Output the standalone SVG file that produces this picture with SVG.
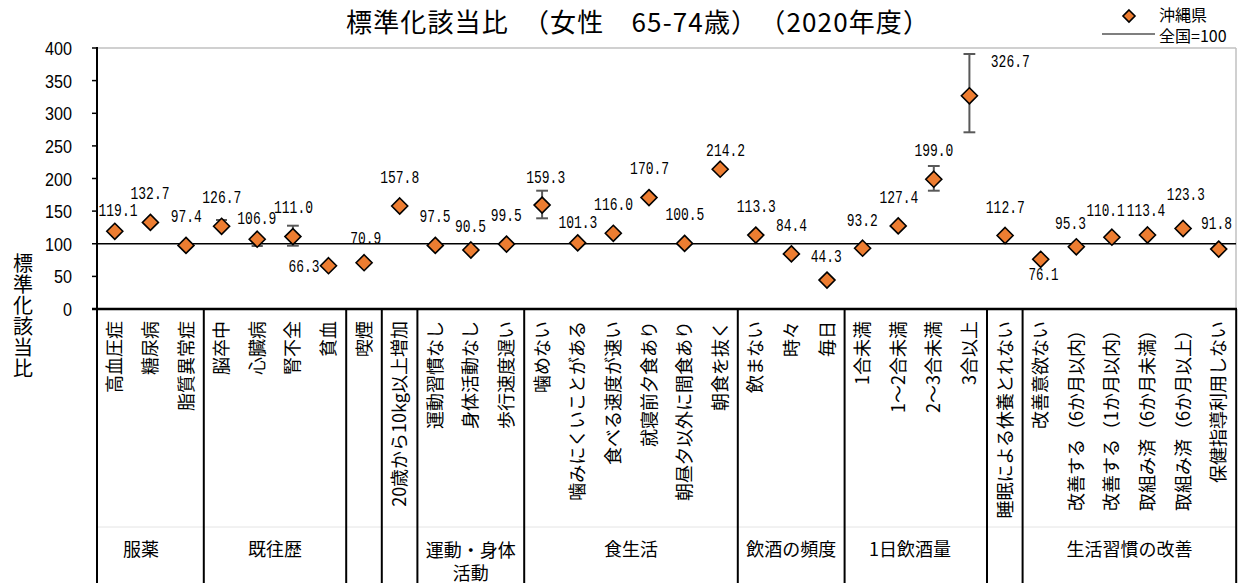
<svg xmlns="http://www.w3.org/2000/svg" xmlns:xlink="http://www.w3.org/1999/xlink" width="1242" height="583" viewBox="0 0 1242 583">
<style>
.jp{font-family:"Noto Sans CJK JP","Noto Sans CJK SC",sans-serif;fill:#000}
.title{font-size:26px}
.ylab{font-size:20px;writing-mode:vertical-rl;letter-spacing:1px}
.tick{font-family:"Liberation Sans",Arial,sans-serif;font-size:18px;text-anchor:end;fill:#000}
.val{font-family:"Liberation Mono","DejaVu Sans Mono",monospace;font-size:19px;fill:#000}
.cat{font-size:18px;text-anchor:end}
.grp{font-size:18px;text-anchor:middle}
.leg{font-size:16px}
.mk{fill:#ED7D31;stroke:#000;stroke-width:1.6}
.eb{stroke:#595959;stroke-width:2;fill:none}
.ax{stroke:#000;fill:none}
.bd{stroke:#c0c0c0;stroke-width:1.5;fill:none}
</style>
<defs>
<path id="dm" d="M0,-8 L8,0 L0,8 L-8,0Z"/>
<path id="dms" d="M0,-6 L6,0 L0,6 L-6,0Z"/>
</defs>
<rect width="1242" height="583" fill="#fff"/>
<text class="jp title" x="346" y="32" textLength="583">標準化該当比　（女性　65-74歳）　（2020年度）</text>
<g id="legend">
<use href="#dms" x="1129" y="16" class="mk"/>
<text class="jp leg" x="1159" y="21">沖縄県</text>
<line x1="1102" y1="34" x2="1155" y2="34" stroke="#000" stroke-width="1.2"/>
<text class="jp leg" x="1159" y="42">全国=100</text>
</g>
<g id="y-axis-title">
<text class="jp ylab" x="23" y="253">標準化該当比</text>
</g>
<g id="frame">
<line class="bd" x1="97" y1="48" x2="1236" y2="48"/>
<line class="bd" x1="1236" y1="48" x2="1236" y2="309"/>
<line x1="98" y1="527" x2="1236" y2="527" stroke="#e4e4e4" stroke-width="1"/>
<line class="ax" x1="97" y1="243.75" x2="1236" y2="243.75" stroke-width="1.6"/>
<g class="ax" stroke-width="1.5">
<line x1="92" y1="48" x2="97" y2="48"/>
<line x1="92" y1="80.6" x2="97" y2="80.6"/>
<line x1="92" y1="113.3" x2="97" y2="113.3"/>
<line x1="92" y1="145.9" x2="97" y2="145.9"/>
<line x1="92" y1="178.5" x2="97" y2="178.5"/>
<line x1="92" y1="211.1" x2="97" y2="211.1"/>
<line x1="92" y1="243.75" x2="97" y2="243.75"/>
<line x1="92" y1="276.4" x2="97" y2="276.4"/>
</g>
<line class="ax" x1="92" y1="309" x2="1237" y2="309" stroke-width="2.5"/>
<g class="ax" stroke-width="2">
<line x1="97" y1="47" x2="97" y2="583"/>
<line x1="203.8" y1="309" x2="203.8" y2="583"/>
<line x1="346.2" y1="309" x2="346.2" y2="583"/>
<line x1="381.8" y1="309" x2="381.8" y2="583"/>
<line x1="417.4" y1="309" x2="417.4" y2="583"/>
<line x1="524.2" y1="309" x2="524.2" y2="583"/>
<line x1="737.8" y1="309" x2="737.8" y2="583"/>
<line x1="844.6" y1="309" x2="844.6" y2="583"/>
<line x1="987" y1="309" x2="987" y2="583"/>
<line x1="1022.6" y1="309" x2="1022.6" y2="583"/>
<line x1="1236.2" y1="309" x2="1236.2" y2="583"/>
</g>
</g>
<g id="y-ticks">
<text class="tick" x="72" y="55" textLength="27" lengthAdjust="spacingAndGlyphs">400</text>
<text class="tick" x="72" y="87.6" textLength="27" lengthAdjust="spacingAndGlyphs">350</text>
<text class="tick" x="72" y="120.3" textLength="27" lengthAdjust="spacingAndGlyphs">300</text>
<text class="tick" x="72" y="152.9" textLength="27" lengthAdjust="spacingAndGlyphs">250</text>
<text class="tick" x="72" y="185.5" textLength="27" lengthAdjust="spacingAndGlyphs">200</text>
<text class="tick" x="72" y="218.1" textLength="27" lengthAdjust="spacingAndGlyphs">150</text>
<text class="tick" x="72" y="250.75" textLength="27" lengthAdjust="spacingAndGlyphs">100</text>
<text class="tick" x="72" y="283.4" textLength="18" lengthAdjust="spacingAndGlyphs">50</text>
<text class="tick" x="72" y="316" textLength="9" lengthAdjust="spacingAndGlyphs">0</text>
</g>
<g id="connectors">
<line class="eb" x1="221.6" y1="220" x2="221.6" y2="228"/><line class="eb" x1="216" y1="220" x2="227" y2="220"/>
<line class="eb" x1="257.2" y1="238" x2="257.2" y2="246"/><line class="eb" x1="251.6" y1="246" x2="262.8" y2="246"/>
<line class="eb" x1="292.9" y1="225.7" x2="292.9" y2="245.7"/><line class="eb" x1="287" y1="225.7" x2="298.8" y2="225.7"/><line class="eb" x1="287" y1="245.7" x2="298.8" y2="245.7"/>
<line class="eb" x1="542.1" y1="190.7" x2="542.1" y2="218.3"/><line class="eb" x1="536.2" y1="190.7" x2="548" y2="190.7"/><line class="eb" x1="536.2" y1="218.3" x2="548" y2="218.3"/>
<line class="eb" x1="933.8" y1="166" x2="933.8" y2="190.7"/><line class="eb" x1="927.9" y1="166" x2="939.7" y2="166"/><line class="eb" x1="927.9" y1="190.7" x2="939.7" y2="190.7"/>
<line class="eb" x1="969.4" y1="54" x2="969.4" y2="132.3"/><line class="eb" x1="963.5" y1="54" x2="975.3" y2="54"/><line class="eb" x1="963.5" y1="132.3" x2="975.3" y2="132.3"/>
</g>
<g id="points">
<g id="p0"><use href="#dm" class="mk" x="114.8" y="231.3"/><text class="val" x="98.5" y="216" textLength="39" lengthAdjust="spacingAndGlyphs">119.1</text></g>
<g id="p1"><use href="#dm" class="mk" x="150.4" y="222.4"/><text class="val" x="130.5" y="199" textLength="39" lengthAdjust="spacingAndGlyphs">132.7</text></g>
<g id="p2"><use href="#dm" class="mk" x="186.0" y="245.4"/><text class="val" x="170.7" y="221.7" textLength="31" lengthAdjust="spacingAndGlyphs">97.4</text></g>
<g id="p3"><use href="#dm" class="mk" x="221.6" y="226.3"/><text class="val" x="202.3" y="202.7" textLength="39" lengthAdjust="spacingAndGlyphs">126.7</text></g>
<g id="p4"><use href="#dm" class="mk" x="257.2" y="239.2"/><text class="val" x="237.3" y="224.3" textLength="39" lengthAdjust="spacingAndGlyphs">106.9</text></g>
<g id="p5"><use href="#dm" class="mk" x="292.9" y="236.6"/><text class="val" x="274" y="213.3" textLength="39" lengthAdjust="spacingAndGlyphs">111.0</text></g>
<g id="p6"><use href="#dm" class="mk" x="328.5" y="265.7"/><text class="val" x="288.5" y="271.7" textLength="31" lengthAdjust="spacingAndGlyphs">66.3</text></g>
<g id="p7"><use href="#dm" class="mk" x="364.1" y="262.7"/><text class="val" x="350.2" y="244.3" textLength="31" lengthAdjust="spacingAndGlyphs">70.9</text></g>
<g id="p8"><use href="#dm" class="mk" x="399.7" y="206.0"/><text class="val" x="380.2" y="183" textLength="39" lengthAdjust="spacingAndGlyphs">157.8</text></g>
<g id="p9"><use href="#dm" class="mk" x="435.3" y="245.4"/><text class="val" x="419.4" y="221.7" textLength="31" lengthAdjust="spacingAndGlyphs">97.5</text></g>
<g id="p10"><use href="#dm" class="mk" x="470.9" y="250.0"/><text class="val" x="455" y="231.7" textLength="31" lengthAdjust="spacingAndGlyphs">90.5</text></g>
<g id="p11"><use href="#dm" class="mk" x="506.5" y="244.1"/><text class="val" x="490.8" y="220.7" textLength="31" lengthAdjust="spacingAndGlyphs">99.5</text></g>
<g id="p12"><use href="#dm" class="mk" x="542.1" y="205.1"/><text class="val" x="526.2" y="183.3" textLength="39" lengthAdjust="spacingAndGlyphs">159.3</text></g>
<g id="p13"><use href="#dm" class="mk" x="577.7" y="242.9"/><text class="val" x="558.4" y="228.3" textLength="39" lengthAdjust="spacingAndGlyphs">101.3</text></g>
<g id="p14"><use href="#dm" class="mk" x="613.3" y="233.3"/><text class="val" x="594.1" y="210" textLength="39" lengthAdjust="spacingAndGlyphs">116.0</text></g>
<g id="p15"><use href="#dm" class="mk" x="649.0" y="197.6"/><text class="val" x="630.1" y="174" textLength="39" lengthAdjust="spacingAndGlyphs">170.7</text></g>
<g id="p16"><use href="#dm" class="mk" x="684.6" y="243.4"/><text class="val" x="665.4" y="220" textLength="39" lengthAdjust="spacingAndGlyphs">100.5</text></g>
<g id="p17"><use href="#dm" class="mk" x="720.2" y="169.2"/><text class="val" x="706.1" y="156" textLength="39" lengthAdjust="spacingAndGlyphs">214.2</text></g>
<g id="p18"><use href="#dm" class="mk" x="755.8" y="235.1"/><text class="val" x="736.8" y="212.3" textLength="39" lengthAdjust="spacingAndGlyphs">113.3</text></g>
<g id="p19"><use href="#dm" class="mk" x="791.4" y="253.9"/><text class="val" x="776.1" y="231" textLength="31" lengthAdjust="spacingAndGlyphs">84.4</text></g>
<g id="p20"><use href="#dm" class="mk" x="827.0" y="280.1"/><text class="val" x="810.8" y="261.7" textLength="31" lengthAdjust="spacingAndGlyphs">44.3</text></g>
<g id="p21"><use href="#dm" class="mk" x="862.6" y="248.2"/><text class="val" x="846.8" y="225.7" textLength="31" lengthAdjust="spacingAndGlyphs">93.2</text></g>
<g id="p22"><use href="#dm" class="mk" x="898.2" y="225.9"/><text class="val" x="879.4" y="203.3" textLength="39" lengthAdjust="spacingAndGlyphs">127.4</text></g>
<g id="p23"><use href="#dm" class="mk" x="933.8" y="179.2"/><text class="val" x="914.4" y="156" textLength="39" lengthAdjust="spacingAndGlyphs">199.0</text></g>
<g id="p24"><use href="#dm" class="mk" x="969.4" y="95.8"/><text class="val" x="990.8" y="67.3" textLength="39" lengthAdjust="spacingAndGlyphs">326.7</text></g>
<g id="p25"><use href="#dm" class="mk" x="1005.1" y="235.5"/><text class="val" x="985.8" y="212.7" textLength="39" lengthAdjust="spacingAndGlyphs">112.7</text></g>
<g id="p26"><use href="#dm" class="mk" x="1040.7" y="259.3"/><text class="val" x="1028.4" y="280" textLength="30" lengthAdjust="spacingAndGlyphs">76.1</text></g>
<g id="p27"><use href="#dm" class="mk" x="1076.3" y="246.8"/><text class="val" x="1055.1" y="229.3" textLength="31" lengthAdjust="spacingAndGlyphs">95.3</text></g>
<g id="p28"><use href="#dm" class="mk" x="1111.9" y="237.2"/><text class="val" x="1086.5" y="216" textLength="38" lengthAdjust="spacingAndGlyphs">110.1</text></g>
<g id="p29"><use href="#dm" class="mk" x="1147.5" y="235.0"/><text class="val" x="1126.8" y="216" textLength="38.5" lengthAdjust="spacingAndGlyphs">113.4</text></g>
<g id="p30"><use href="#dm" class="mk" x="1183.1" y="228.5"/><text class="val" x="1166.8" y="200" textLength="38" lengthAdjust="spacingAndGlyphs">123.3</text></g>
<g id="p31"><use href="#dm" class="mk" x="1218.7" y="249.1"/><text class="val" x="1201.1" y="229.3" textLength="31" lengthAdjust="spacingAndGlyphs">91.8</text></g>
</g>
<g id="categories">
<text class="jp cat" transform="translate(114.8,321) rotate(-90)" y="6.5">高血圧症</text>
<text class="jp cat" transform="translate(150.4,321) rotate(-90)" y="6.5">糖尿病</text>
<text class="jp cat" transform="translate(186.0,321) rotate(-90)" y="6.5">脂質異常症</text>
<text class="jp cat" transform="translate(221.6,321) rotate(-90)" y="6.5">脳卒中</text>
<text class="jp cat" transform="translate(257.2,321) rotate(-90)" y="6.5">心臓病</text>
<text class="jp cat" transform="translate(292.9,321) rotate(-90)" y="6.5">腎不全</text>
<text class="jp cat" transform="translate(328.5,321) rotate(-90)" y="6.5">貧血</text>
<text class="jp cat" transform="translate(364.1,321) rotate(-90)" y="6.5">喫煙</text>
<text class="jp cat" transform="translate(399.7,321) rotate(-90)" y="6.5">20歳から10kg以上増加</text>
<text class="jp cat" transform="translate(435.3,321) rotate(-90)" y="6.5">運動習慣なし</text>
<text class="jp cat" transform="translate(470.9,321) rotate(-90)" y="6.5">身体活動なし</text>
<text class="jp cat" transform="translate(506.5,321) rotate(-90)" y="6.5">歩行速度遅い</text>
<text class="jp cat" transform="translate(542.1,321) rotate(-90)" y="6.5">噛めない</text>
<text class="jp cat" transform="translate(577.7,321) rotate(-90)" y="6.5">噛みにくいことがある</text>
<text class="jp cat" transform="translate(613.3,321) rotate(-90)" y="6.5">食べる速度が速い</text>
<text class="jp cat" transform="translate(649.0,321) rotate(-90)" y="6.5">就寝前夕食あり</text>
<text class="jp cat" transform="translate(684.6,321) rotate(-90)" y="6.5">朝昼夕以外に間食あり</text>
<text class="jp cat" transform="translate(720.2,321) rotate(-90)" y="6.5">朝食を抜く</text>
<text class="jp cat" transform="translate(755.8,321) rotate(-90)" y="6.5">飲まない</text>
<text class="jp cat" transform="translate(791.4,321) rotate(-90)" y="6.5">時々</text>
<text class="jp cat" transform="translate(827.0,321) rotate(-90)" y="6.5">毎日</text>
<text class="jp cat" transform="translate(862.6,321) rotate(-90)" y="6.5">1合未満</text>
<text class="jp cat" transform="translate(898.2,321) rotate(-90)" y="6.5">1～2合未満</text>
<text class="jp cat" transform="translate(933.8,321) rotate(-90)" y="6.5">2～3合未満</text>
<text class="jp cat" transform="translate(969.4,321) rotate(-90)" y="6.5">3合以上</text>
<text class="jp cat" transform="translate(1005.1,321) rotate(-90)" y="6.5">睡眠による休養とれない</text>
<text class="jp cat" transform="translate(1040.7,321) rotate(-90)" y="6.5">改善意欲ない</text>
<text class="jp cat" transform="translate(1076.3,321) rotate(-90)" y="6.5">改善する（6か月以内）</text>
<text class="jp cat" transform="translate(1111.9,321) rotate(-90)" y="6.5">改善する（1か月以内）</text>
<text class="jp cat" transform="translate(1147.5,321) rotate(-90)" y="6.5">取組み済（6か月未満）</text>
<text class="jp cat" transform="translate(1183.1,321) rotate(-90)" y="6.5">取組み済（6か月以上）</text>
<text class="jp cat" transform="translate(1218.7,321) rotate(-90)" y="6.5">保健指導利用しない</text>
</g>
<g id="groups">
<text class="jp grp" x="141" y="556">服薬</text>
<text class="jp grp" x="275" y="556">既往歴</text>
<text class="jp grp" x="470.8" y="557">運動・身体</text>
<text class="jp grp" x="470.8" y="580">活動</text>
<text class="jp grp" x="631" y="556">食生活</text>
<text class="jp grp" x="791.2" y="556">飲酒の頻度</text>
<text class="jp grp" x="910" y="556">1日飲酒量</text>
<text class="jp grp" x="1129.4" y="556">生活習慣の改善</text>
</g>
</svg>
